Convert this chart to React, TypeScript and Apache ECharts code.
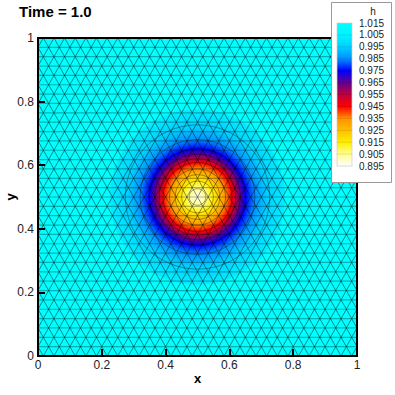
import React, { useEffect, useRef } from "react";
import * as echarts from "echarts";

const titleText = "Time = 1.0";
const legendTitle = "h";
const legendLevels = [1.015, 1.005, 0.995, 0.985, 0.975, 0.965, 0.955, 0.945, 0.935, 0.925, 0.915, 0.905, 0.895];
const legendColors = ["#00ffff", "#00f4ff", "#00d0ff", "#0090ff", "#0000ff", "#600090", "#c00040", "#ff0000", "#ff9000", "#ffc000", "#ffee00", "#ffff90", "#ffffff"];
// radial profile around the hump: distance from centre -> h
const profileRadius = [0, 0.026, 0.05, 0.07, 0.088, 0.108, 0.12, 0.134, 0.151, 0.18, 0.219, 0.25, 0.275];
const profileH = [0.896, 0.905, 0.915, 0.925, 0.935, 0.945, 0.955, 0.965, 0.975, 0.985, 0.995, 1.0, 1.003];
const contourRadius = [0.026, 0.05, 0.07, 0.088, 0.108, 0.12, 0.134, 0.151, 0.18, 0.226];
const humpCentre = [0.5, 0.5];
const background = "#00ffff";
const meshColumns = 30;
const meshRows = 34;

function colorAt(h: number) {
  const hex = (c: string) => [1, 3, 5].map((i) => parseInt(c.slice(i, i + 2), 16));
  for (let i = 0; i < legendLevels.length - 1; i++) {
    if (h <= legendLevels[i] && h >= legendLevels[i + 1]) {
      const t = (legendLevels[i] - h) / (legendLevels[i] - legendLevels[i + 1]);
      const a = hex(legendColors[i]);
      const b = hex(legendColors[i + 1]);
      return `rgb(${a.map((v, k) => Math.round(v + (b[k] - v) * t)).join(",")})`;
    }
  }
  return background;
}

function buildMesh() {
  const segs: number[][] = [];
  const dx = 1 / meshColumns;
  const dy = 1 / meshRows;
  for (let r = 0; r <= meshRows; r++) {
    const y = r * dy;
    segs.push([0, y, 1, y]);
    if (r === meshRows) break;
    const off = r % 2 === 0 ? 0.5 : 0;
    for (let i = -1; i <= meshColumns + 1; i++) {
      const x = (i + off) * dx;
      const xUp = x + dx / 2;
      const xUp2 = x - dx / 2;
      segs.push([x, y, xUp, y + dy]);
      segs.push([x, y, xUp2, y + dy]);
    }
  }
  return segs;
}

function clipSeg(s: number[]) {
  let [x1, y1, x2, y2] = s;
  const clip = (px: number, py: number, qx: number, qy: number) => {
    if (px < 0) return [0, py + ((qy - py) * (0 - px)) / (qx - px)];
    if (px > 1) return [1, py + ((qy - py) * (1 - px)) / (qx - px)];
    return [px, py];
  };
  if ((x1 < 0 && x2 <= 0) || (x1 > 1 && x2 >= 1) || (x2 < 0 && x1 <= 0) || (x2 > 1 && x1 >= 1)) return null;
  const a = clip(x1, y1, x2, y2);
  const b = clip(x2, y2, x1, y1);
  return [a[0], a[1], b[0], b[1]];
}

const FONT = "'Liberation Sans', Arial, sans-serif";

export default function App() {
  const ref = useRef<HTMLDivElement>(null);
  useEffect(() => {
    const chart = echarts.init(ref.current!, undefined, { renderer: "svg" });
    const axisCommon = {
      min: 0,
      max: 1,
      interval: 0.2,
      z: 10,
      splitLine: { show: false },
      axisLine: { show: true, onZero: false, lineStyle: { color: "#000", width: 2 } },
    };
    const mesh = buildMesh().map(clipSeg).filter(Boolean) as number[][];
    const legendTop = 23;
    const legendStep = 11.92;
    const legendH = legendStep * (legendLevels.length - 1);
    chart.setOption({
      animation: false,
      backgroundColor: "#fff",
      grid: { left: 38, right: 38, top: 38, bottom: 39, outerBoundsMode: "none", containLabel: false },
      xAxis: [
        {
          ...axisCommon,
          type: "value",
          position: "bottom",
          name: "x",
          nameLocation: "middle",
          nameGap: 16,
          nameMoveOverlap: false,
          nameTextStyle: { fontFamily: FONT, fontWeight: "bold", fontSize: 13, color: "#000" },
          axisTick: { inside: true, length: 7, lineStyle: { color: "#000", width: 2 } },
          axisLabel: { fontFamily: FONT, fontSize: 12, color: "#222", margin: 3 },
        },
        { ...axisCommon, type: "value", position: "top", axisTick: { show: false }, axisLabel: { show: false } },
      ],
      yAxis: [
        {
          ...axisCommon,
          type: "value",
          position: "left",
          name: "y",
          nameLocation: "middle",
          nameGap: 21,
          nameMoveOverlap: false,
          nameTextStyle: { fontFamily: FONT, fontWeight: "bold", fontSize: 13, color: "#000" },
          axisTick: { inside: true, length: 7, lineStyle: { color: "#000", width: 2 } },
          axisLabel: { fontFamily: FONT, fontSize: 12, color: "#222", margin: 4 },
        },
        { ...axisCommon, type: "value", position: "right", axisTick: { show: false }, axisLabel: { show: false } },
      ],
      series: [
        {
          type: "custom",
          coordinateSystem: "cartesian2d",
          z: 1,
          clip: true,
          silent: true,
          data: [[humpCentre[0], humpCentre[1], 1]],
          renderItem: (_p: any, api: any) => {
            const c = api.coord([api.value(0), api.value(1)]);
            const rBack = api.size([1, 1]);
            const rMax = profileRadius[profileRadius.length - 1];
            const rPx = rMax * rBack[0];
            return {
              type: "group",
              children: [
                {
                  type: "rect",
                  shape: { x: c[0] - rBack[0] / 2, y: c[1] - rBack[1] / 2, width: rBack[0], height: rBack[1] },
                  style: { fill: background },
                },
                {
                  type: "circle",
                  shape: { cx: c[0], cy: c[1], r: rPx },
                  style: {
                    fill: {
                      type: "radial",
                      x: 0.5,
                      y: 0.5,
                      r: 0.5,
                      colorStops: profileRadius.map((r, i) => ({ offset: r / rMax, color: colorAt(profileH[i]) })),
                    },
                  },
                },
              ],
            };
          },
        },
        {
          type: "custom",
          coordinateSystem: "cartesian2d",
          z: 2,
          clip: true,
          silent: true,
          data: contourRadius.map((r) => [humpCentre[0], humpCentre[1], r]),
          renderItem: (_p: any, api: any) => {
            const c = api.coord([api.value(0), api.value(1)]);
            return {
              type: "circle",
              shape: { cx: c[0], cy: c[1], r: api.value(2) * api.size([1, 1])[0] },
              style: { fill: "none", stroke: "rgba(0,0,0,0.5)", lineWidth: 0.7 },
            };
          },
        },
        {
          type: "custom",
          coordinateSystem: "cartesian2d",
          z: 3,
          clip: true,
          silent: true,
          data: mesh,
          renderItem: (_p: any, api: any) => {
            const a = api.coord([api.value(0), api.value(1)]);
            const b = api.coord([api.value(2), api.value(3)]);
            const flat = api.value(1) === api.value(3);
            return {
              type: "line",
              shape: { x1: a[0], y1: a[1], x2: b[0], y2: b[1] },
              style: flat
                ? { stroke: "rgba(0,0,0,0.3)", lineWidth: 1.2 }
                : { stroke: "rgba(0,0,0,0.6)", lineWidth: 0.75 },
            };
          },
        },
      ],
      graphic: [
        { type: "text", x: 19, y: 4, z: 20, style: { text: titleText, font: `bold 15px ${FONT}`, fill: "#000" } },
        { type: "rect", z: 20, shape: { x: 331.5, y: 2.5, width: 60, height: 180 }, style: { fill: "#fff", stroke: "#999", lineWidth: 1 } },
        { type: "text", x: 373, y: 11, z: 21, style: { text: legendTitle, font: `10px ${FONT}`, fill: "#222", align: "center", verticalAlign: "middle" } },
        {
          type: "rect",
          z: 21,
          shape: { x: 337, y: legendTop, width: 15, height: legendH },
          style: {
            fill: {
              type: "linear",
              x: 0,
              y: 0,
              x2: 0,
              y2: 1,
              colorStops: legendColors.map((color, i) => ({ offset: i / (legendColors.length - 1), color })),
            },
            stroke: "#ccc",
            lineWidth: 0.7,
          },
        },
        ...legendLevels.slice(1, -1).map((_, i) => ({
          type: "line",
          z: 22,
          shape: { x1: 337, y1: legendTop + (i + 1) * legendStep, x2: 352, y2: legendTop + (i + 1) * legendStep },
          style: { stroke: "rgba(0,0,0,0.15)", lineWidth: 0.7 },
        })),
        ...legendLevels.map((v, i) => ({
          type: "text",
          x: 359,
          y: legendTop + i * legendStep,
          z: 22,
          style: { text: v.toFixed(3), font: `10px ${FONT}`, fill: "#222", verticalAlign: "middle" },
        })),
      ],
    });
    return () => chart.dispose();
  }, []);
  return <div ref={ref} style={{ position: "absolute", left: 0, top: 0, width: 395, height: 395 }} />;
}
